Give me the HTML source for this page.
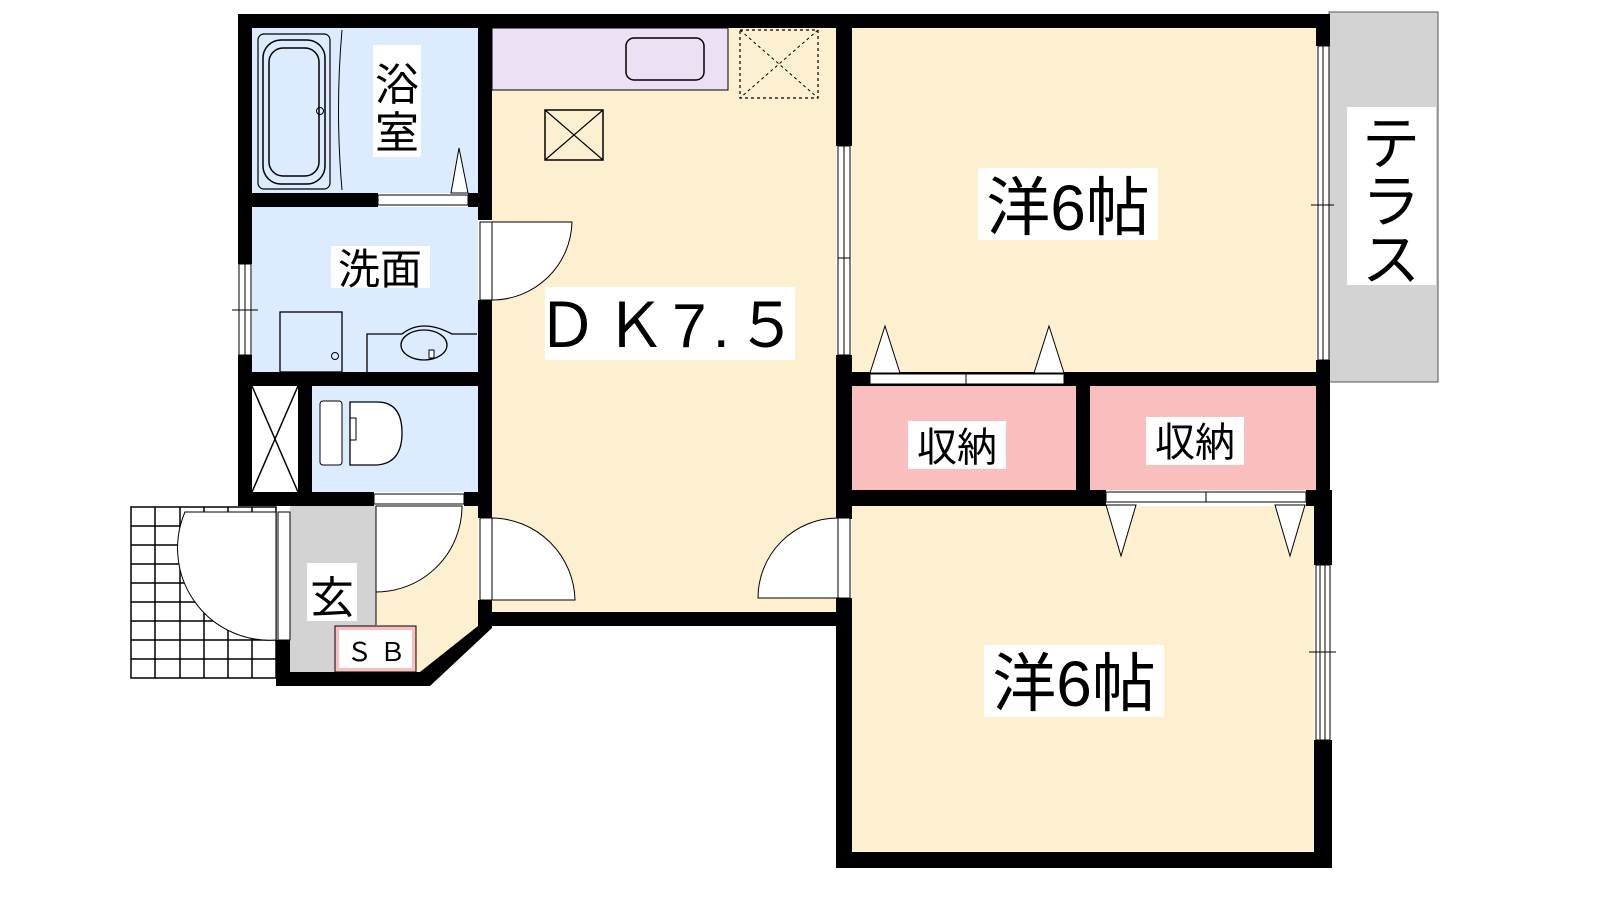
<!DOCTYPE html>
<html><head><meta charset="utf-8"><style>
html,body{margin:0;padding:0;background:#fff;width:1600px;height:900px;overflow:hidden}
svg{display:block}
text{font-family:"Liberation Sans","Noto Sans CJK JP",sans-serif;fill:#000}
</style></head><body>
<svg width="1600" height="900" viewBox="0 0 1600 900" xmlns="http://www.w3.org/2000/svg">
<g stroke="#000" stroke-width="1.5" fill="none">
<rect x="131" y="507" width="145" height="171" fill="#fff"/>
<path d="M155 507V678M180 507V678M204 507V678M228 507V678M252 507V678M131 526H276M131 545H276M131 564H276M131 583H276M131 602H276M131 621H276M131 640H276M131 659H276"/>
</g>
<rect x="1329" y="12" width="109" height="370" fill="#d3d3d3" stroke="#555" stroke-width="1"/>
<rect x="252" y="28" width="226" height="165" fill="#dcecfe"/>
<rect x="252" y="207" width="226" height="165" fill="#dcecfe"/>
<rect x="312" y="386" width="166" height="106" fill="#dcecfe"/>
<rect x="252" y="386" width="46" height="106" fill="#fff"/>
<path d="M252 386L298 492M298 386L252 492" stroke="#000" stroke-width="1.5"/>
<rect x="492" y="28" width="344" height="584" fill="#fdf0d0"/>
<rect x="492" y="28" width="236" height="62" fill="#ece0f5" stroke="#000" stroke-width="1"/>
<rect x="626" y="38" width="78" height="42" rx="8" fill="none" stroke="#000" stroke-width="1.5"/>
<rect x="740" y="30" width="78" height="68" fill="none" stroke="#000" stroke-width="1.2" stroke-dasharray="3,3"/>
<path d="M740 30L818 98M818 30L740 98" stroke="#000" stroke-width="1" stroke-dasharray="3,3"/>
<rect x="545" y="110" width="58" height="50" fill="none" stroke="#000" stroke-width="1.5"/>
<path d="M545 110L603 160M603 110L545 160" stroke="#000" stroke-width="1.2"/>
<rect x="852" y="28" width="464" height="344" fill="#fdf0d0"/>
<rect x="852" y="386" width="224" height="104" fill="#fbbebe"/>
<rect x="1090" y="386" width="226" height="104" fill="#fbbebe"/>
<rect x="852" y="506" width="462" height="346" fill="#fdf0d0"/>
<rect x="290" y="506" width="86" height="166" fill="#d3d3d3"/>
<path d="M376 506H478V626L420 672H376Z" fill="#fdf0d0"/>
<path d="M376 506V625" stroke="#000" stroke-width="1"/>
<rect x="335" y="626" width="81" height="46" fill="#fbbebe" stroke="#000" stroke-width="1"/>
<rect x="339" y="630" width="73" height="38" fill="#fff"/>
<g fill="#000">
<rect x="238" y="14" width="1092" height="14"/>
<rect x="238" y="14" width="14" height="250"/>
<rect x="238" y="355" width="14" height="151"/>
<rect x="478" y="14" width="14" height="206"/>
<rect x="478" y="300" width="14" height="218"/>
<rect x="478" y="600" width="14" height="26"/>
<rect x="252" y="193" width="126" height="14"/>
<rect x="468" y="193" width="10" height="14"/>
<rect x="238" y="372" width="240" height="14"/>
<rect x="298" y="386" width="14" height="106"/>
<rect x="238" y="492" width="136" height="14"/>
<rect x="464" y="492" width="28" height="14"/>
<rect x="478" y="612" width="372" height="14"/>
<rect x="836" y="14" width="16" height="132"/>
<rect x="836" y="355" width="16" height="164"/>
<rect x="836" y="598" width="16" height="270"/>
<rect x="836" y="372" width="494" height="14"/>
<rect x="1076" y="386" width="14" height="104"/>
<rect x="836" y="490" width="270" height="16"/>
<rect x="1306" y="490" width="26" height="16"/>
<rect x="1316" y="14" width="14" height="32"/>
<rect x="1316" y="360" width="14" height="146"/>
<rect x="1314" y="490" width="18" height="75"/>
<rect x="1314" y="740" width="18" height="128"/>
<rect x="836" y="852" width="496" height="16"/>
<rect x="276" y="640" width="14" height="46"/>
<path d="M276 672H420L478 626V612H492V628L430 686H276Z"/>
</g>
<g fill="#fff" stroke="#000" stroke-width="1">
<rect x="239" y="264" width="12" height="91"/><path d="M245 264V355M232 310H258" fill="none"/>
<rect x="838" y="146" width="12" height="209"/><path d="M844 146V355M838 258H850" fill="none"/>
<rect x="1318" y="46" width="11" height="314"/><path d="M1323 46V360M1311 205H1334" fill="none"/>
<rect x="1316" y="565" width="14" height="175"/><path d="M1320 565V740M1325 565V740M1309 652H1336" fill="none"/>
<rect x="378" y="195" width="90" height="10"/>
<rect x="870" y="374" width="96" height="10"/><rect x="966" y="374" width="98" height="10"/>
<rect x="1106" y="492" width="100" height="10"/><rect x="1206" y="492" width="100" height="10"/>
<rect x="374" y="494" width="90" height="10"/>
<path d="M451 193L459 148L468 193Z"/>
<path d="M870 373L885 326L900 373Z"/><path d="M1034 373L1049 326L1064 373Z"/>
<path d="M1106 505L1121 556L1136 505Z"/><path d="M1275 505L1290 556L1305 505Z"/>
<rect x="480" y="222" width="12" height="78"/>
<path d="M492 222H572A80 80 0 0 1 492 300Z"/>
<rect x="480" y="518" width="12" height="82"/>
<path d="M492 518A84 84 0 0 1 575 600H492Z"/>
<rect x="838" y="518" width="12" height="80"/>
<path d="M838 518A80 80 0 0 0 758 598H838Z"/>
<path d="M376 506H462A86 86 0 0 1 376 592Z"/>
<rect x="278" y="512" width="12" height="128"/>
<path d="M276 512H185A92 92 0 0 0 276 640Z"/>
</g>
<rect x="258" y="34" width="72" height="155" rx="6" fill="none" stroke="#000" stroke-width="1.2"/>
<rect x="263" y="40" width="62" height="144" rx="18" fill="none" stroke="#000" stroke-width="1.5"/>
<rect x="269" y="48" width="50" height="128" rx="14" fill="none" stroke="#000" stroke-width="1.5"/>
<circle cx="320" cy="111" r="3.5" fill="none" stroke="#000"/>
<path d="M342 30Q335 110 342 190" fill="none" stroke="#000"/>
<rect x="280" y="312" width="62" height="60" fill="none" stroke="#000" stroke-width="1.3"/>
<circle cx="335" cy="356" r="3.5" fill="none" stroke="#000"/>
<path d="M367 372V334H402Q422 318 452 334H477" fill="none" stroke="#000" stroke-width="1.3"/>
<ellipse cx="424" cy="345" rx="23" ry="15" fill="none" stroke="#000" stroke-width="1.3"/>
<rect x="429" y="350" width="5" height="8" fill="#fff" stroke="#000"/>
<path d="M350 402V465H377Q402 463 402 433Q402 402 377 402Z" fill="#fff" stroke="#000" stroke-width="1.3"/>
<path d="M350 418H356V440H350" fill="none" stroke="#000"/>
<rect x="320" y="401" width="22" height="64" rx="3" fill="#fff" stroke="#000"/>
<rect x="373" y="45" width="48" height="112" fill="#fff"/>
<text x="397" y="100" font-size="44" text-anchor="middle">浴</text>
<text x="397" y="148" font-size="44" text-anchor="middle">室</text>
<rect x="331" y="246" width="99" height="42" fill="#fff"/>
<text x="380" y="284" font-size="42" text-anchor="middle">洗面</text>
<rect x="545" y="287" width="250" height="73" fill="#fff"/>
<text x="670" y="347" font-size="62" text-anchor="middle" letter-spacing="6">ＤＫ7.５</text>
<rect x="978" y="168" width="180" height="72" fill="#fff"/>
<text x="1068" y="230" font-size="64" text-anchor="middle">洋6帖</text>
<rect x="984" y="645" width="180" height="72" fill="#fff"/>
<text x="1074" y="706" font-size="64" text-anchor="middle">洋6帖</text>
<rect x="908" y="421" width="98" height="48" fill="#fff"/>
<text x="957" y="461" font-size="40" text-anchor="middle">収納</text>
<rect x="1146" y="417" width="98" height="48" fill="#fff"/>
<text x="1195" y="456" font-size="40" text-anchor="middle">収納</text>
<rect x="1347" y="107" width="89" height="178" fill="#fff"/>
<text x="1391" y="164" font-size="58" text-anchor="middle">テ</text>
<text x="1391" y="222" font-size="58" text-anchor="middle">ラ</text>
<text x="1391" y="280" font-size="58" text-anchor="middle">ス</text>
<rect x="307" y="563" width="50" height="58" fill="#fff"/>
<text x="332" y="613" font-size="44" text-anchor="middle">玄</text>
<text x="376" y="661" font-size="26" text-anchor="middle">Ｓ Ｂ</text>
</svg>
</body></html>
